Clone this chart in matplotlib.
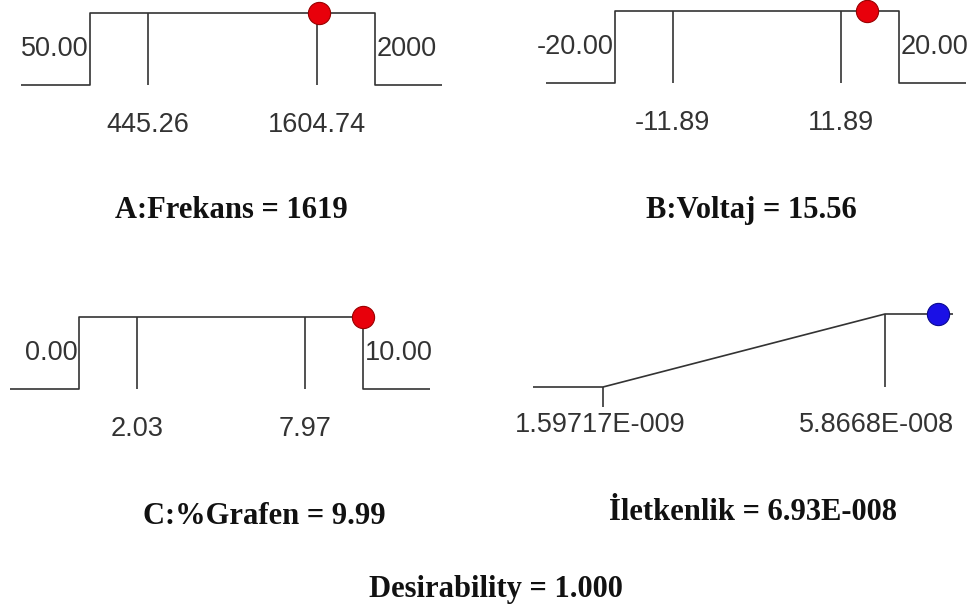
"""Desirability ramps for the optimised Frekans / Voltaj / %Grafen solution."""

import matplotlib.pyplot as plt

# factor ramps
factor_names = ["A:Frekans", "B:Voltaj", "C:%Grafen"]
factor_low = [50.0, -20.0, 0.0]
factor_high = [2000.0, 20.0, 10.0]
factor_low_labels = ["50.00", "-20.00", "0.00"]
factor_high_labels = ["2000", "20.00", "10.00"]
axial_low = [445.26, -11.89, 2.03]
axial_high = [1604.74, 11.89, 7.97]
factor_value = [1619.0, 15.56, 9.99]
factor_value_labels = ["1619", "15.56", "9.99"]

# response ramp (maximise)
response_name = "İletkenlik"
response_low = 1.59717e-9
response_high = 5.8668e-8
response_value = 6.93e-8
response_low_label = "1.59717E-009"
response_high_label = "5.8668E-008"
response_value_label = "6.93E-008"

desirability = 1.000

W, H = 969, 607
LINE = "#333333"
NUM_FONT = dict(family="Liberation Sans", size=19.5, color="#333333")
TITLE_FONT = dict(family="Liberation Serif", size=22, weight="bold", color="#111111")


def place_ramp(fig, lo, hi, x_lo, x_hi, y_base, y_top, ext_l=69, ext_r=67):
    """Axes whose data x runs lo..hi between pixel columns x_lo..x_hi and y 0..1 between base and top."""
    scale = (x_hi - x_lo) / (hi - lo)
    left = x_lo - ext_l
    ax = fig.add_axes([left / W, (H - y_base) / H,
                       (x_hi + ext_r - left) / W, (y_base - y_top) / H])
    ax.set_xlim(lo - ext_l / scale, hi + ext_r / scale)
    ax.set_ylim(0, 1)
    ax.axis("off")
    return ax


def draw_factor(ax, i):
    lo, hi = factor_low[i], factor_high[i]
    x0, x1 = ax.get_xlim()
    kw = dict(color=LINE, lw=1.2, clip_on=False, solid_capstyle="butt")
    ax.plot([x0, lo, lo, hi, hi, x1], [0, 0, 1, 1, 0, 0], **kw)
    for a in (axial_low[i], axial_high[i]):
        ax.plot([a, a], [0, 1], **kw)
        ax.annotate(f"{a:.2f}", (a, 0), xytext=(0, -29), textcoords="offset points",
                    ha="center", va="center", **NUM_FONT)
    ax.annotate(factor_low_labels[i], (lo, 0.5), xytext=(-1, 0), textcoords="offset points",
                ha="right", va="center", **NUM_FONT)
    ax.annotate(factor_high_labels[i], (hi, 0.5), xytext=(1, 0), textcoords="offset points",
                ha="left", va="center", **NUM_FONT)
    ax.plot([factor_value[i]], [1], "o", ms=16, mfc="#e8000b", mec="#9a0000",
            mew=0.8, clip_on=False, zorder=5)


def draw_response(ax):
    lo, hi = response_low, response_high
    x0, x1 = ax.get_xlim()
    kw = dict(color=LINE, lw=1.2, clip_on=False, solid_capstyle="butt")
    ax.plot([x0, lo, hi, x1], [0, 0, 1, 1], **kw)
    ax.plot([lo, lo], [0, -0.27], **kw)
    ax.plot([hi, hi], [0, 1], **kw)
    ax.annotate(response_low_label, (lo, 0), xytext=(-2, -27), textcoords="offset points",
                ha="center", va="center", **NUM_FONT)
    ax.annotate(response_high_label, (hi, 0), xytext=(-6, -27), textcoords="offset points",
                ha="center", va="center", **NUM_FONT)
    ax.plot([response_value], [1], "o", ms=16, mfc="#1a10e6", mec="#0a0a90",
            mew=0.8, clip_on=False, zorder=5)


fig = plt.figure(figsize=(W / 100, H / 100), dpi=100)

boxes = [(90, 375, 85, 13), (615, 899, 83, 11), (79, 363, 389, 317)]
for i, (x_lo, x_hi, y_base, y_top) in enumerate(boxes):
    ax = place_ramp(fig, factor_low[i], factor_high[i], x_lo, x_hi, y_base, y_top)
    draw_factor(ax, i)

ax_r = place_ramp(fig, response_low, response_high, 603, 885, 387, 314, ext_l=70, ext_r=68)
draw_response(ax_r)

titles = [
    (f"{factor_names[0]} = {factor_value_labels[0]}", 231, 218),
    (f"{factor_names[1]} = {factor_value_labels[1]}", 751, 218),
    (f"{factor_names[2]} = {factor_value_labels[2]}", 264, 524),
    (f"{response_name} = {response_value_label}", 753, 520),
    (f"Desirability = {desirability:.3f}", 496, 597),
]
for text, x, y in titles:
    fig.text(x / W, 1 - y / H, text, ha="center", va="baseline", **TITLE_FONT)

fig.savefig("out.png", dpi=100, facecolor="white")
